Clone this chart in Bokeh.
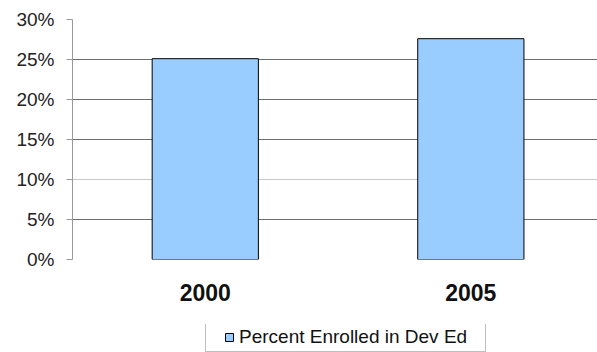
from bokeh.plotting import figure
from bokeh.layouts import column
from bokeh.models import (FixedTicker, NumeralTickFormatter, Range1d, Legend, LegendItem,
                          Grid, ColumnDataSource)
from bokeh.embed import file_html
from bokeh.resources import INLINE

# ---- data ----
categories = ["2000", "2005"]
percent_enrolled = [0.251, 0.276]
y_ticks = [0.0, 0.05, 0.10, 0.15, 0.20, 0.25, 0.30]
series_name = "Percent Enrolled in Dev Ed"

BAR_FILL = "#99CCFF"
FONT = "Liberation Sans"

positions = [i + 0.5 for i in range(len(categories))]
src = ColumnDataSource(dict(x=positions, top=percent_enrolled))

# ---- main chart ----
p = figure(width=597, height=324, output_backend="svg", toolbar_location=None,
           x_range=Range1d(0, 1.977), y_range=Range1d(0, 0.30),
           min_border_left=72, min_border_right=0, min_border_top=19, min_border_bottom=65)
p.outline_line_color = None
p.background_fill_color = "white"
p.border_fill_color = "white"

p.xgrid.visible = False
p.ygrid.ticker = FixedTicker(ticks=[0.0, 0.05, 0.15, 0.20, 0.25])
p.ygrid.grid_line_color = "#6e6e6e"
p.ygrid.grid_line_width = 1
light = Grid(dimension=1, ticker=FixedTicker(ticks=[0.10, 0.30]),
             grid_line_color="#c8c8c8", grid_line_width=1)
p.add_layout(light)

r = p.vbar(x="x", top="top", width=0.4, bottom=0, source=src,
           fill_color=BAR_FILL, line_color="#000000", line_width=1)

p.yaxis.ticker = FixedTicker(ticks=y_ticks)
p.yaxis.formatter = NumeralTickFormatter(format="0%")
p.yaxis.axis_line_color = "#999999"
p.yaxis.major_tick_line_color = "#999999"
p.yaxis.major_tick_out = 6
p.yaxis.major_tick_in = 0
p.yaxis.minor_tick_line_color = None
p.yaxis.major_label_text_font = FONT
p.yaxis.major_label_text_font_size = "19px"
p.yaxis.major_label_text_color = "#222222"
p.yaxis.major_label_standoff = 12

p.xaxis.ticker = FixedTicker(ticks=positions)
p.xaxis.major_label_overrides = {pos: c for pos, c in zip(positions, categories)}
p.xaxis.axis_line_color = None
p.xaxis.major_tick_line_color = None
p.xaxis.major_tick_out = 0
p.xaxis.major_tick_in = 0
p.xaxis.minor_tick_line_color = None
p.xaxis.major_label_text_font = FONT
p.xaxis.major_label_text_font_size = "23px"
p.xaxis.major_label_text_font_style = "bold"
p.xaxis.major_label_text_color = "#111111"
p.xaxis.major_label_standoff = 24

# ---- legend strip below the chart ----
pl = figure(width=597, height=28, output_backend="svg", toolbar_location=None,
            x_range=Range1d(0, 1.977), y_range=Range1d(10, 11),
            x_axis_type=None, y_axis_type=None,
            min_border_left=72, min_border_right=0, min_border_top=0, min_border_bottom=0)
pl.outline_line_color = None
pl.xgrid.visible = False
pl.ygrid.visible = False
pl.border_fill_color = "white"
# same series, drawn outside this strip's view; it only supplies the legend swatch
lr = pl.vbar(x="x", top="top", width=0.4, bottom=0, source=src,
             fill_color=BAR_FILL, line_color="#000000", line_width=1)
# invisible spacer entries that push the swatch in from the box edge
sp = pl.vbar(x="x", top="top", width=0.4, bottom=0, source=src,
             fill_alpha=0, line_alpha=0)

legend = Legend(items=[LegendItem(label="", renderers=[sp]),
                       LegendItem(label=series_name, renderers=[lr]),
                       LegendItem(label="", renderers=[sp])],
                location=(133, 0), orientation="horizontal",
                border_line_color="#808080", border_line_width=1,
                background_fill_color="white", background_fill_alpha=1,
                label_text_font=FONT, label_text_font_size="19px",
                label_text_color="#111111", label_width=0,
                glyph_width=10, glyph_height=10, label_standoff=5,
                padding=3, margin=0, spacing=0)
pl.add_layout(legend, "center")

layout = column(p, pl, spacing=0)
open("out.html", "w").write(file_html(layout, INLINE))
